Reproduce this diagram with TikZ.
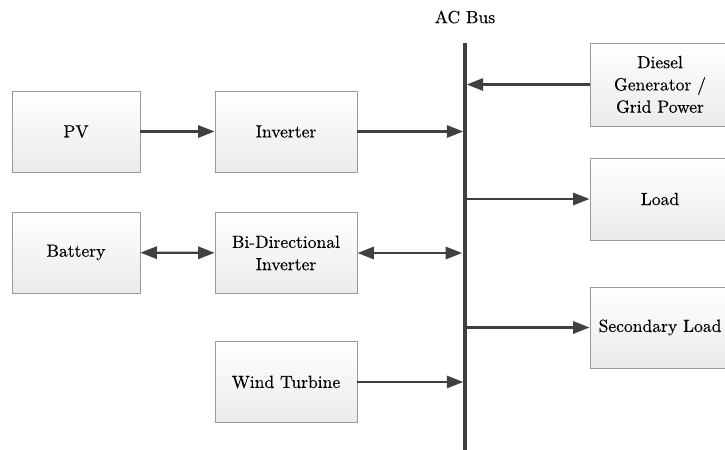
\documentclass[tikz,border=0pt]{standalone}
\usepackage{fontspec}
\newfontfamily\labelface{lmroman10-regular.otf}[FakeBold=0.4]
\usetikzlibrary{arrows.meta}
\definecolor{lineg}{HTML}{404040}
\definecolor{boxg}{HTML}{9A9A9A}
\tikzset{
  unit/.style={draw=boxg,line width=0.8pt,top color=white,bottom color=black!8,
    align=center,inner sep=0pt,font=\labelface\fontsize{15}{19}\selectfont},
  flow/.style={draw=lineg,line width=1.9pt,-{Triangle[length=14pt,width=10.5pt]}},
  flowboth/.style={flow,{Triangle[length=14pt,width=10.5pt]}-{Triangle[length=14pt,width=10.5pt]}}
}
\begin{document}
\begin{tikzpicture}[x=0.03cm,y=-0.03cm]
  \useasboundingbox (0,0) rectangle (725,450);
  % Busbar.
  \node[font=\labelface\fontsize{15}{19}\selectfont] (buslabel) at (465,17) {AC Bus};
  \coordinate (bustop) at (465,43);
  \coordinate (busbot) at (465,452);
  \draw[lineg,line width=3.4pt] (bustop) -- (busbot);

  % Sources on the left.
  \node[unit,minimum width=128*0.03cm,minimum height=81*0.03cm] (pv) at (76,131.5) {PV};
  \node[unit,minimum width=142*0.03cm,minimum height=81*0.03cm] (inv) at (286,131.5) {Inverter};
  \node[unit,minimum width=128*0.03cm,minimum height=81*0.03cm] (bat) at (76,252.5) {Battery};
  \node[unit,minimum width=142*0.03cm,minimum height=81*0.03cm] (bdi) at (286,253) {Bi-Directional\\Inverter};
  \node[unit,minimum width=142*0.03cm,minimum height=81*0.03cm] (wind) at (286,382) {Wind Turbine};

  % Units on the right.
  \node[unit,minimum width=140*0.03cm,minimum height=83*0.03cm] (dsl) at (660,84.5) {Diesel\\Generator /\\Grid Power};
  \node[unit,minimum width=140*0.03cm,minimum height=82*0.03cm] (load) at (660,199) {Load};
  \node[unit,minimum width=140*0.03cm,minimum height=81*0.03cm] (sload) at (660,327.5) {Secondary Load};

  \draw[flow] (pv) -- (inv);
  \draw[flow,shorten >=1.5pt] (inv.east) -- (inv.east -| bustop);
  \draw[flowboth] (bat) -- (bdi);
  \draw[flowboth,shorten >=2.5pt] (bdi.east) -- (bdi.east -| bustop);
  \draw[flow,shorten >=1.5pt] (wind.east) -- (wind.east -| bustop);
  \draw[flow,shorten >=1.5pt] (dsl.west) -- (dsl.west -| bustop);
  \draw[flow] (load.west -| bustop) -- (load.west);
  \draw[flow] (sload.west -| bustop) -- (sload.west);
\end{tikzpicture}
\end{document}
